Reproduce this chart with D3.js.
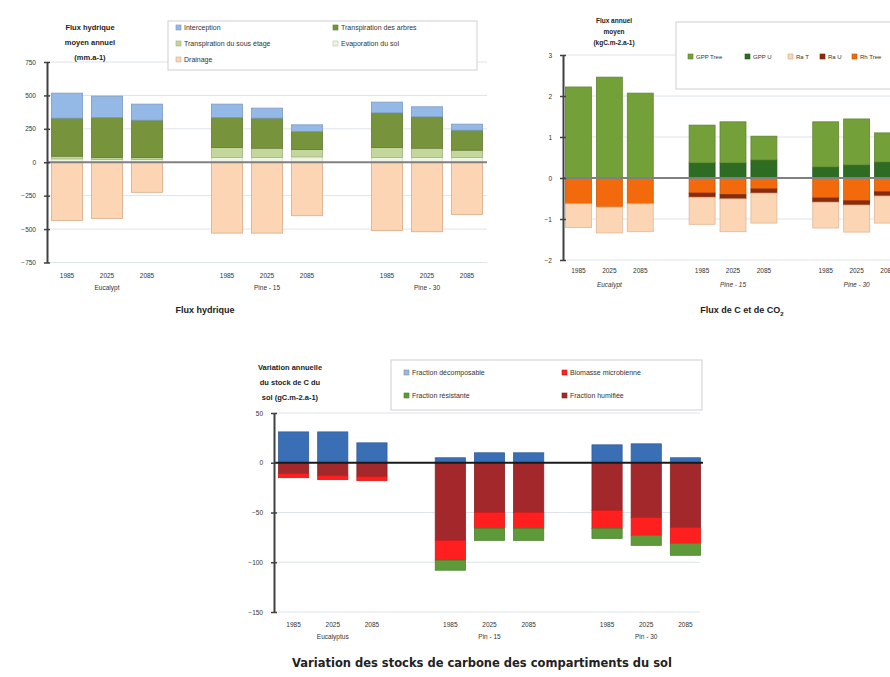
<!DOCTYPE html>
<html>
<head>
<meta charset="utf-8">
<script src="https://cdn.jsdelivr.net/npm/d3@7"></script>
<style>
  html, body { margin: 0; padding: 0; background: #fff; }
  svg { display: block; font-family: "Liberation Sans", Arial, sans-serif; }
</style>
</head>
<body>
<svg id="fig" width="890" height="677"></svg>
<script>
// ---- shared categories ----
const years = ["1985", "2025", "2085"];
const standGroups = ["Eucalypt", "Pine - 15", "Pine - 30"];
const soilGroups = ["Eucalyptus", "Pin - 15", "Pin - 30"];

// ---- water fluxes (mm.a-1), one value per stand x year ----
const hydroTicks = [-750, -500, -250, 0, 250, 500, 750];
const evapSol        = [25, 20, 20, 35, 35, 40, 35, 35, 35];
const transpSousEtage = [20, 15, 15, 75, 70, 55, 75, 70, 55];
const transpArbres   = [285, 300, 280, 225, 225, 135, 260, 235, 150];
const interception   = [187, 160, 120, 100, 75, 50, 80, 75, 45];
const drainage       = [-435, -420, -225, -530, -530, -400, -510, -520, -390];

// ---- carbon fluxes (kgC.m-2.a-1) ----
const carbonTicks = [-2, -1, 0, 1, 2, 3];
const gppU    = [0, 0, 0, 0.37, 0.37, 0.44, 0.27, 0.32, 0.39];
const gppTree = [2.22, 2.46, 2.07, 0.92, 1.0, 0.58, 1.1, 1.12, 0.71];
const rhTree  = [-0.63, -0.71, -0.63, -0.37, -0.41, -0.27, -0.49, -0.56, -0.34];
const raU     = [0, 0, 0, -0.1, -0.1, -0.1, -0.1, -0.1, -0.1];
const raT     = [-0.58, -0.63, -0.68, -0.66, -0.8, -0.73, -0.63, -0.66, -0.66];

// ---- soil carbon stock change (gC.m-2.a-1) ----
const soilTicks = [-150, -100, -50, 0, 50];
const fracDecomposable = [31, 31, 20, 5, 10, 10, 18, 19, 5];
const fracHumifiee     = [-11, -13, -14, -78, -50, -50, -48, -55, -65];
const biomasseMicro    = [-4, -4, -4, -20, -16, -16, -18, -18, -16];
const fracResistante   = [0, 0, 0, -10, -12, -12, -10, -10, -12];

const svg = d3.select("#fig");

function bandKeys(groups) {
  const k = [];
  groups.forEach((g, i) => {
    if (i > 0) k.push("gap" + i);
    years.forEach(y => k.push(g + "|" + y));
  });
  return k;
}

function panel(o) {
  const g = svg.append("g");
  const keys = bandKeys(o.groups);
  const x = d3.scaleBand().domain(keys).range(o.xRange)
    .paddingInner(o.padIn).paddingOuter(o.padOut);
  const y = d3.scaleLinear().domain(o.yDomain).range(o.yRange);

  // light horizontal gridlines
  g.selectAll("line.grid").data(o.ticks.filter(t => t !== 0)).join("line")
    .attr("x1", o.xRange[0]).attr("x2", o.gridEnd)
    .attr("y1", d => y(d)).attr("y2", d => y(d))
    .attr("stroke", "#dde3ea").attr("stroke-width", 1);

  // stacked bars (positive values stack up, negative ones down)
  const rows = o.groups.flatMap((gr, gi) => years.map((yr, yi) => ({ key: gr + "|" + yr, idx: gi * 3 + yi })));
  const stack = d3.stack()
    .keys(o.series.map((s, i) => i))
    .value((d, k) => o.series[k].values[d.idx])
    .offset(d3.stackOffsetDiverging);
  const layers = stack(rows);
  layers.forEach((layer, li) => {
    const s = o.series[li];
    g.selectAll(null).data(layer.filter(d => d[1] !== d[0])).join("rect")
      .attr("x", d => x(d.data.key))
      .attr("width", x.bandwidth())
      .attr("y", d => y(Math.max(d[0], d[1])))
      .attr("height", d => Math.abs(y(d[0]) - y(d[1])))
      .attr("fill", s.color)
      .attr("stroke", s.stroke || d3.color(s.color).darker(0.5))
      .attr("stroke-width", 0.8);
  });

  // zero line
  g.append("line")
    .attr("x1", o.xRange[0]).attr("x2", o.zeroEnd)
    .attr("y1", y(0)).attr("y2", y(0))
    .attr("stroke", o.zeroColor).attr("stroke-width", 2.2);

  // value axis with crossing tick marks
  const yAxis = d3.axisLeft(y).tickValues(o.ticks).tickSize(3).tickSizeOuter(0).tickPadding(8)
    .tickFormat(d3.format("d"));
  const ax = g.append("g").attr("transform", `translate(${o.xRange[0]},0)`).call(yAxis);
  ax.select(".domain").attr("stroke", "#404040").attr("stroke-width", 2);
  ax.selectAll(".tick line").attr("x2", 3).attr("x1", -3).attr("stroke", "#404040").attr("stroke-width", 1.5);
  ax.selectAll(".tick text").attr("font-size", 6.5).attr("fill", "#333").attr("font-family", "Liberation Sans, Arial");

  // category labels (years, then stand names)
  rows.forEach(r => {
    g.append("text").attr("x", x(r.key) + x.bandwidth() / 2).attr("y", o.yearY)
      .attr("text-anchor", "middle").attr("font-size", 6.5).attr("fill", "#333")
      .text(r.key.split("|")[1]);
  });
  o.groups.forEach(gr => {
    const mid = x(gr + "|2025") + x.bandwidth() / 2;
    g.append("text").attr("x", mid).attr("y", o.groupY)
      .attr("text-anchor", "middle").attr("font-size", 6.5).attr("fill", "#333")
      .attr("font-style", o.italicGroups ? "italic" : null)
      .text(gr);
  });

  // unit block above the axis
  o.unit.lines.forEach((ln, i) => {
    g.append("text").attr("x", o.unit.x).attr("y", o.unit.y + i * o.unit.dy)
      .attr("text-anchor", "middle").attr("font-size", o.unit.size).attr("font-weight", "bold")
      .attr("fill", "#222").text(ln);
  });

  // legend box
  const L = o.legend;
  g.append("rect").attr("x", L.x).attr("y", L.y).attr("width", L.w).attr("height", L.h)
    .attr("fill", "#fff").attr("stroke", "#d0d0d0").attr("stroke-width", 1);
  L.items.forEach(it => {
    g.append("rect").attr("x", it.x).attr("y", it.y - 4).attr("width", 5).attr("height", 5)
      .attr("fill", it.color).attr("stroke", d3.color(it.color).darker(0.6)).attr("stroke-width", 0.6);
    g.append("text").attr("x", it.x + 8).attr("y", it.y + 1).attr("font-size", L.size)
      .attr("fill", "#333").text(it.label);
  });

  // panel title
  if (o.title.text) {
    g.append("text").attr("x", o.title.x).attr("y", o.title.y).attr("text-anchor", "middle")
      .attr("font-size", o.title.size).attr("font-weight", "bold").attr("fill", "#222")
      .attr("font-family", o.title.family || null)
      .text(o.title.text);
  }
  return g;
}

// ---------- Flux hydrique ----------
const cInter = "#95b9e6", cArbres = "#77933c", cSous = "#c3d69b", cEvap = "#eef3e2", cDrain = "#fcd5b5";
panel({
  groups: standGroups,
  xRange: [47, 487], padIn: 0.22, padOut: 0.11,
  yDomain: [-750, 750], yRange: [262.5, 62],
  ticks: hydroTicks, gridEnd: 487, zeroEnd: 487, zeroColor: "#808080",
  series: [
    { values: evapSol, color: cEvap, stroke: "#d6dcc8" },
    { values: transpSousEtage, color: cSous },
    { values: transpArbres, color: cArbres },
    { values: interception, color: cInter },
    { values: drainage, color: cDrain, stroke: "#d9ab88" }
  ],
  yearY: 278, groupY: 290, italicGroups: false,
  unit: { x: 90, y: 30, dy: 15, size: 7.5, lines: ["Flux hydrique", "moyen annuel", "(mm.a-1)"] },
  legend: {
    x: 168, y: 21, w: 309, h: 49, size: 7,
    items: [
      { x: 176, y: 29, color: cInter, label: "Interception" },
      { x: 176, y: 45, color: cSous, label: "Transpiration du sous étage" },
      { x: 176, y: 61, color: cDrain, label: "Drainage" },
      { x: 333, y: 29, color: cArbres, label: "Transpiration des arbres" },
      { x: 333, y: 45, color: cEvap, label: "Evaporation du sol" }
    ]
  },
  title: { x: 205, y: 313, size: 9, text: "Flux hydrique" }
});

// ---------- Flux de C et de CO2 ----------
const cGppT = "#74a03a", cGppU = "#2e6b23", cRaT = "#fcd5b5", cRaU = "#8a2c0c", cRh = "#f26a0c";
const cPanel = panel({
  groups: standGroups,
  xRange: [563, 903], padIn: 0.16, padOut: 0.08,
  yDomain: [-2, 3], yRange: [260, 55],
  ticks: carbonTicks, gridEnd: 903, zeroEnd: 903, zeroColor: "#808080",
  series: [
    { values: gppU, color: cGppU },
    { values: gppTree, color: cGppT },
    { values: rhTree, color: cRh },
    { values: raU, color: cRaU },
    { values: raT, color: cRaT, stroke: "#e0b898" }
  ],
  yearY: 273, groupY: 287, italicGroups: true,
  unit: { x: 614, y: 23, dy: 11, size: 6.5, lines: ["Flux annuel", "moyen", "(kgC.m-2.a-1)"] },
  legend: {
    x: 676, y: 22, w: 230, h: 67, size: 6,
    items: [
      { x: 688, y: 58, color: cGppT, label: "GPP Tree" },
      { x: 745, y: 58, color: cGppU, label: "GPP U" },
      { x: 788, y: 58, color: cRaT, label: "Ra T" },
      { x: 820, y: 58, color: cRaU, label: "Ra U" },
      { x: 852, y: 58, color: cRh, label: "Rh Tree" }
    ]
  },
  title: { x: 738, y: 313, size: 9, text: "" }
});
// title with subscript
const t2 = cPanel.append("text").attr("x", 742).attr("y", 313).attr("text-anchor", "middle")
  .attr("font-size", 9).attr("font-weight", "bold").attr("fill", "#222");
t2.append("tspan").text("Flux de C et de CO");
t2.append("tspan").attr("font-size", 6).attr("dy", 2.5).text("2");

// ---------- Variation des stocks de carbone du sol ----------
const cDec = "#3a6fb6", cHum = "#a2282c", cBio = "#ff1f1f", cRes = "#5f9a3a";
panel({
  groups: soilGroups,
  xRange: [274, 705], padIn: 0.23, padOut: 0.115,
  yDomain: [-150, 50], yRange: [612, 413],
  ticks: soilTicks, gridEnd: 700, zeroEnd: 703, zeroColor: "#1a1a1a",
  series: [
    { values: fracDecomposable, color: cDec },
    { values: fracHumifiee, color: cHum },
    { values: biomasseMicro, color: cBio },
    { values: fracResistante, color: cRes }
  ],
  yearY: 627, groupY: 639, italicGroups: false,
  unit: { x: 290, y: 370, dy: 15, size: 7.5, lines: ["Variation annuelle", "du stock de C du", "sol (gC.m-2.a-1)"] },
  legend: {
    x: 391, y: 360, w: 311, h: 50, size: 7,
    items: [
      { x: 404, y: 374, color: "#9db7d8", label: "Fraction décomposable" },
      { x: 404, y: 397, color: cRes, label: "Fraction résistante" },
      { x: 562, y: 374, color: cBio, label: "Biomasse microbienne" },
      { x: 562, y: 397, color: cHum, label: "Fraction humifiée" }
    ]
  },
  title: { x: 482, y: 667, size: 11.5, family: "DejaVu Sans, Verdana, sans-serif",
           text: "Variation des stocks de carbone des compartiments du sol" }
});
</script>
</body>
</html>
